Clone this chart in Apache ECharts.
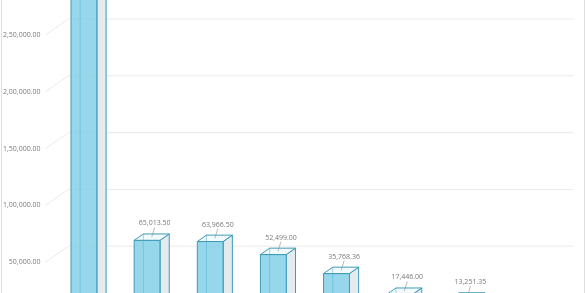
<!DOCTYPE html>
<html>
<head>
<meta charset="utf-8">
<style>
  html, body { margin: 0; padding: 0; background: #fff; overflow: hidden; width: 585px; height: 293px; }
  #main { width: 585px; height: 330px; }
</style>
<script src="https://cdn.jsdelivr.net/npm/echarts@6/dist/echarts.min.js"></script>
</head>
<body>
<div id="main"></div>
<script>
// data (first bar runs past the top, value estimated)
const categories = ['1', '2', '3', '4', '5', '6', '7', '8'];
const values = [298350, 65013.5, 63966.5, 52499, 35768.36, 17446, 13251.35, null];
const yTicks = [0, 50000, 100000, 150000, 200000, 250000];

// fake 3d: depth of the floor in px, bars sit between 30% and 70% of it
const DEPTH = [23, -16];
const FRONT = 0.3, BACK = 0.7;

function indian(v) {
  const parts = v.toFixed(2).split('.');
  let s = parts[0];
  let last3 = s.slice(-3);
  let rest = s.slice(0, -3);
  if (rest) {
    rest = rest.replace(/\B(?=(\d{2})+(?!\d))/g, ',');
    s = rest + ',' + last3;
  } else {
    s = last3;
  }
  return s + '.' + parts[1];
}

const lineColor = '#3f9bb8';
const labelColor = '#7a7a7a';
const labelFont = '7px "Open Sans", sans-serif';

let myChart = echarts.init(document.getElementById('main'));

myChart.setOption({
  backgroundColor: '#fff',
  animation: false,
  // the picture is cut off at the bottom: value 0 lands at y=319
  grid: { left: 45, right: 34.4, top: 35, bottom: 11 },
  xAxis: {
    type: 'category',
    data: categories,
    axisLine: { show: false },
    axisTick: { show: false },
    axisLabel: { show: false }
  },
  yAxis: {
    type: 'value',
    min: 0,
    max: 250000,
    interval: 50000,
    axisLine: { show: false },
    axisTick: { show: false },
    splitLine: { show: false },
    axisLabel: {
      margin: 5,
      color: labelColor,
      fontSize: 7,
      fontFamily: '"Open Sans", sans-serif',
      formatter: function (v) { return v === 0 ? '' : indian(v); }
    }
  },
  graphic: [{
    type: 'rect',
    shape: { x: 1.5, y: -5, width: 583, height: 340 },
    style: { fill: 'none', stroke: '#dedede', lineWidth: 1 },
    silent: true
  }],
  series: [
    {
      // back wall gridlines + side wall diagonals
      type: 'custom',
      z: 1,
      data: yTicks.map(t => [0, t]),
      encode: { x: 0, y: 1 },
      renderItem: function (params, api) {
        const cs = params.coordSys;
        const y = api.coord([0, api.value(1)])[1];
        return {
          type: 'polyline',
          shape: {
            points: [
              [cs.x, y],
              [cs.x + DEPTH[0], y + DEPTH[1]],
              [cs.x + cs.width + DEPTH[0], y + DEPTH[1]]
            ]
          },
          style: { stroke: '#ebebeb', lineWidth: 1, fill: 'none' },
          silent: true
        };
      }
    },
    {
      type: 'custom',
      z: 2,
      data: values.map((v, i) => [i, v]),
      encode: { x: 0, y: 1 },
      renderItem: function (params, api) {
        const v = api.value(1);
        if (v == null || isNaN(v)) return;
        const top = api.coord([api.value(0), v]);
        const base = api.coord([api.value(0), 0]);
        const w = api.size([1, 0])[0] * 0.41;
        const fx = FRONT * DEPTH[0], fy = FRONT * DEPTH[1];
        const bx = BACK * DEPTH[0], by = BACK * DEPTH[1];
        const x0 = top[0] - w / 2, x1 = top[0] + w / 2;
        const yt = top[1], yb = base[1];

        const fTL = [x0 + fx, yt + fy], fTR = [x1 + fx, yt + fy];
        const fBL = [x0 + fx, yb + fy], fBR = [x1 + fx, yb + fy];
        const bTL = [x0 + bx, yt + by], bTR = [x1 + bx, yt + by];
        const bBL = [x0 + bx, yb + by];

        const topC = [(fTL[0] + bTR[0]) / 2, (fTL[1] + bTR[1]) / 2];
        const lx = topC[0] + 3, ly = fTL[1] - 17;

        return {
          type: 'group',
          children: [
            { type: 'line', shape: { x1: bTL[0], y1: bTL[1], x2: bBL[0], y2: bBL[1] },
              style: { stroke: lineColor, lineWidth: 1 } },
            { type: 'polygon', shape: { points: [fTR, bTR, [bTR[0], yb + by], fBR] },
              style: { fill: '#e4ebee', stroke: lineColor, lineWidth: 1 } },
            { type: 'polygon', shape: { points: [fTL, fTR, fBR, fBL] },
              style: { fill: 'rgba(128,206,230,0.82)', stroke: lineColor, lineWidth: 1 } },
            { type: 'polygon', shape: { points: [fTL, bTL, bTR, fTR] },
              style: { fill: 'rgba(235,247,251,0.6)', stroke: lineColor, lineWidth: 1 } },
            { type: 'line', shape: { x1: lx, y1: ly + 4, x2: topC[0], y2: topC[1] },
              style: { stroke: '#9a9a9a', lineWidth: 0.7 } },
            { type: 'text', x: lx, y: ly,
              style: { text: indian(v), fill: labelColor, font: labelFont,
                       align: 'center', verticalAlign: 'middle' } }
          ]
        };
      }
    }
  ]
});
</script>
</body>
</html>
